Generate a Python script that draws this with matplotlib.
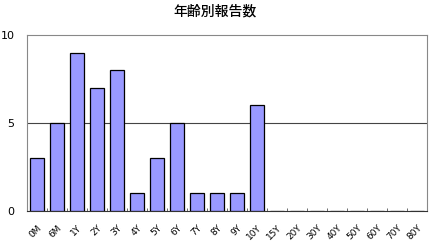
import matplotlib
matplotlib.use("Agg")
import matplotlib.pyplot as plt
import numpy as np

plt.rcParams['font.family'] = ['Noto Sans CJK JP', 'DejaVu Sans']

title = "年齢別報告数"
categories = ["0M", "6M", "1Y", "2Y", "3Y", "4Y", "5Y", "6Y", "7Y", "8Y", "9Y", "10Y",
              "15Y", "20Y", "30Y", "40Y", "50Y", "60Y", "70Y", "80Y"]
counts = [3, 5, 9, 7, 8, 1, 3, 5, 1, 1, 1, 6, 0, 0, 0, 0, 0, 0, 0, 0]

fig = plt.figure(figsize=(4.33, 2.44), dpi=100)
ax = fig.add_axes([27 / 433, 1 - 211 / 244, 400 / 433, 176 / 244])

x = np.arange(len(categories))
ax.bar(x, counts, width=0.68, color="#9999FF", edgecolor="black", linewidth=0.9, zorder=3)

ax.set_xlim(-0.5, len(categories) - 0.5)
ax.set_ylim(0, 10)
ax.set_yticks([0, 5, 10])
ax.set_yticklabels(["0", "5", "10"], fontsize=8, family="DejaVu Sans")
ax.axhline(5, color="#444444", linewidth=0.8, zorder=1)

ax.set_xticks(x)
ax.set_xticklabels(categories, rotation=45, fontsize=6.5, ha="right",
                   rotation_mode="anchor", family="DejaVu Sans")
ax.tick_params(axis="x", length=0, pad=9)
ax.set_xticks(np.arange(-0.5, len(categories), 1), minor=True)
ax.tick_params(axis="x", which="minor", length=2, direction="in", color="#555555")
ax.tick_params(axis="y", length=0, pad=9)

for side in ["top", "right", "left"]:
    ax.spines[side].set_color("#888888")
    ax.spines[side].set_linewidth(0.8)
ax.spines["bottom"].set_color("#333333")

fig.text(215 / 433, 1 - 11 / 244, title, ha="center", va="center", fontsize=10,
         fontweight="medium")

fig.savefig("out.png", dpi=100)
